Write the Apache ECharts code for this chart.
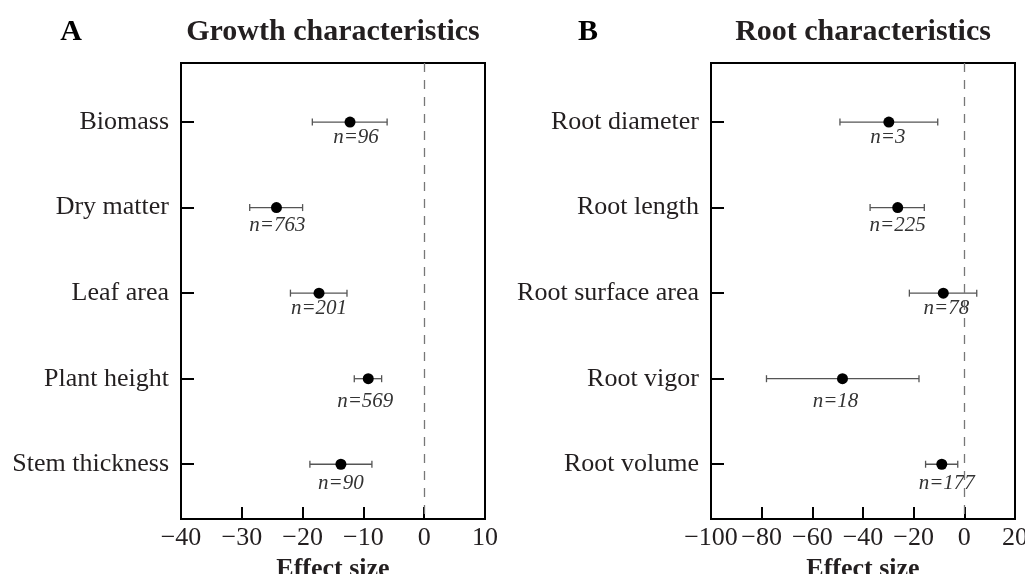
<!DOCTYPE html>
<html>
<head>
<meta charset="utf-8">
<title>Effect size</title>
<script src="https://cdn.jsdelivr.net/npm/echarts@6/dist/echarts.min.js"></script>
<style>
html, body { margin: 0; padding: 0; background: #fff; overflow: hidden; }
#chart { width: 1025px; height: 574px; }
</style>
</head>
<body>
<div id="chart"></div>
<script>
// panel A - growth
var growthTraits = ['Biomass', 'Dry matter', 'Leaf area', 'Plant height', 'Stem thickness'];
var growthMean = [-12.2, -24.3, -17.3, -9.2, -13.7];
var growthLow = [-18.4, -28.7, -22.0, -11.5, -18.8];
var growthHigh = [-6.1, -20.0, -12.7, -7.0, -8.6];
var growthN = [96, 763, 201, 569, 90];
var growthTicks = [-40, 10, 10]; // min, max, step

// panel B - root
var rootTraits = ['Root diameter', 'Root length', 'Root surface area', 'Root vigor', 'Root volume'];
var rootMean = [-29.8, -26.3, -8.3, -48.1, -8.9];
var rootLow = [-49.1, -37.2, -21.7, -78.1, -15.3];
var rootHigh = [-10.5, -15.8, 4.9, -17.9, -2.6];
var rootN = [3, 225, 78, 18, 177];
var rootTicks = [-100, 20, 20];

// n= label placement under each dot (px)
var labelDrop = [15, 18, 15, 23, 19];
var growthNudge = [6, 1, 0, -3, 0];
var rootNudge = [-1, 0, 3, -7, 5];

var FONT = "'Liberation Serif', 'Times New Roman', serif";
var INK = '#231f20';
var rows = [1, 2, 3, 4, 5];

function minusSign(v) {
    return String(v).replace('-', '\u2212');
}

function makeX(idx, ticks) {
    return {
        type: 'value',
        gridIndex: idx,
        min: ticks[0],
        max: ticks[1],
        interval: ticks[2],
        name: 'Effect size',
        nameLocation: 'middle',
        nameGap: 26,
        nameTextStyle: { fontFamily: FONT, fontSize: 26, fontWeight: 'bold', color: INK },
        axisLine: { show: false, onZero: false },
        axisTick: { inside: true, length: 12, lineStyle: { color: '#000', width: 2 } },
        axisLabel: { margin: 6, fontFamily: FONT, fontSize: 26, color: INK, formatter: minusSign },
        splitLine: { show: false }
    };
}

function makeY(idx, names) {
    return {
        type: 'value',
        gridIndex: idx,
        inverse: true,
        min: 0.31,
        max: 5.64,
        axisLine: { show: false, onZero: false },
        axisTick: { inside: true, length: 13, customValues: rows, lineStyle: { color: '#000', width: 2 } },
        axisLabel: {
            margin: 12,
            customValues: rows,
            fontFamily: FONT,
            fontSize: 26,
            color: INK,
            formatter: function (v) { return names[Math.round(v) - 1] || ''; }
        },
        splitLine: { show: false }
    };
}

function errorBars(idx, low, high) {
    var data = low.map(function (lo, i) { return [lo, high[i], i + 1]; });
    return {
        type: 'custom',
        xAxisIndex: idx,
        yAxisIndex: idx,
        silent: true,
        data: data,
        renderItem: function (params, api) {
            var a = api.coord([api.value(0), api.value(2)]);
            var b = api.coord([api.value(1), api.value(2)]);
            var cap = 3.5;
            var st = { stroke: '#555', lineWidth: 1.3 };
            return {
                type: 'group',
                children: [
                    { type: 'line', shape: { x1: a[0], y1: a[1], x2: b[0], y2: b[1] }, style: st },
                    { type: 'line', shape: { x1: a[0], y1: a[1] - cap, x2: a[0], y2: a[1] + cap }, style: st },
                    { type: 'line', shape: { x1: b[0], y1: b[1] - cap, x2: b[0], y2: b[1] + cap }, style: st }
                ]
            };
        }
    };
}

function dots(idx, mean, counts, nudge) {
    var data = mean.map(function (m, i) {
        return {
            value: [m, i + 1],
            label: { offset: [nudge[i], labelDrop[i]], formatter: 'n=' + counts[i] }
        };
    });
    return {
        type: 'scatter',
        xAxisIndex: idx,
        yAxisIndex: idx,
        symbolSize: 11,
        itemStyle: { color: '#000', opacity: 1 },
        label: {
            show: true,
            position: 'inside',
            fontFamily: FONT,
            fontStyle: 'italic',
            fontSize: 21,
            color: '#333'
        },
        data: data,
        markLine: {
            silent: true,
            symbol: ['none', 'none'],
            label: { show: false },
            lineStyle: { color: '#777', width: 1.3, type: [9, 8] },
            data: [{ xAxis: 0 }]
        },
        z: 3
    };
}

var chart = echarts.init(document.getElementById('chart'));
chart.setOption({
    animation: false,
    backgroundColor: '#fff',
    grid: [
        { left: 181, top: 63, width: 304, bottom: 55, show: true, borderColor: '#000', borderWidth: 2, outerBoundsMode: 'none' },
        { left: 711, top: 63, width: 304, bottom: 55, show: true, borderColor: '#000', borderWidth: 2, outerBoundsMode: 'none' }
    ],
    xAxis: [makeX(0, growthTicks), makeX(1, rootTicks)],
    yAxis: [makeY(0, growthTraits), makeY(1, rootTraits)],
    graphic: [
        { type: 'text', x: 71, y: 32, style: { text: 'A', font: 'bold 30px ' + FONT, fill: '#000', textAlign: 'center', textVerticalAlign: 'middle' } },
        { type: 'text', x: 333, y: 32, style: { text: 'Growth characteristics', font: 'bold 30px ' + FONT, fill: INK, textAlign: 'center', textVerticalAlign: 'middle' } },
        { type: 'text', x: 588, y: 32, style: { text: 'B', font: 'bold 30px ' + FONT, fill: '#000', textAlign: 'center', textVerticalAlign: 'middle' } },
        { type: 'text', x: 863, y: 32, style: { text: 'Root characteristics', font: 'bold 30px ' + FONT, fill: INK, textAlign: 'center', textVerticalAlign: 'middle' } }
    ],
    series: [
        errorBars(0, growthLow, growthHigh),
        dots(0, growthMean, growthN, growthNudge),
        errorBars(1, rootLow, rootHigh),
        dots(1, rootMean, rootN, rootNudge)
    ]
});
</script>
</body>
</html>
